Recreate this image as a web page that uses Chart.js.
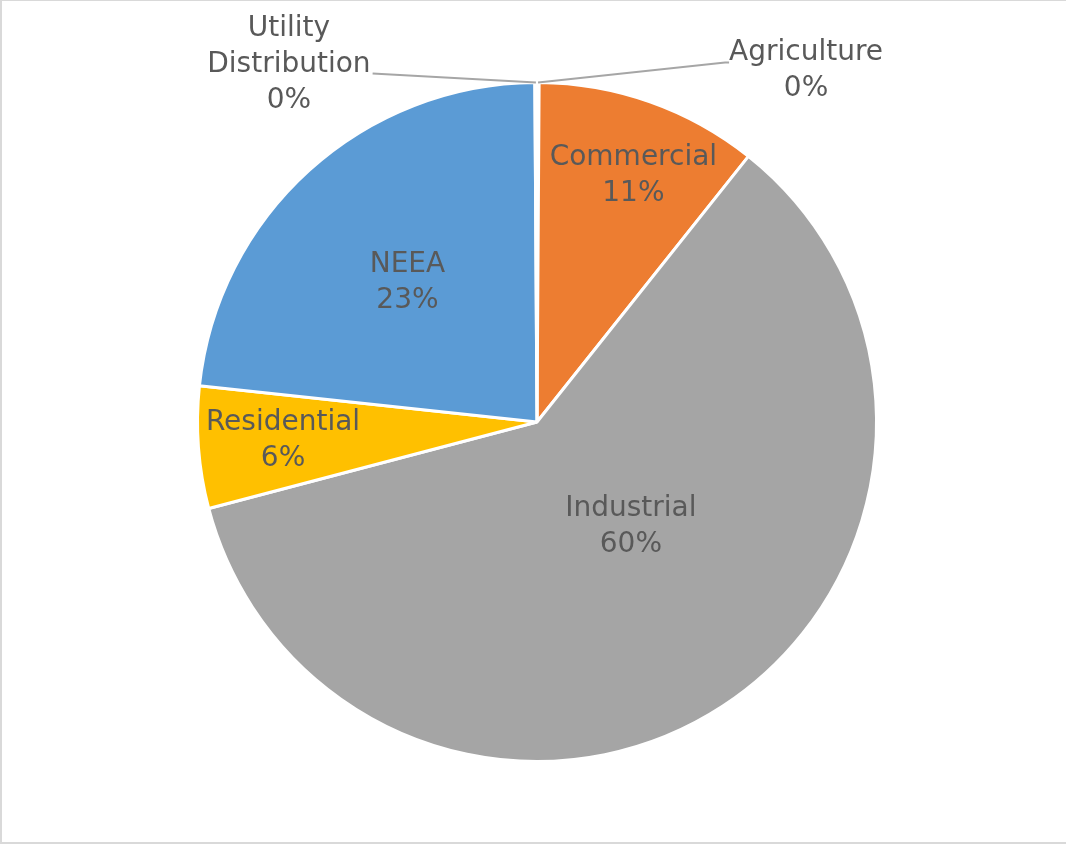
<!DOCTYPE html>
<html>
<head>
<meta charset="utf-8">
<script src="https://cdn.jsdelivr.net/npm/chart.js@4.4.0/dist/chart.umd.min.js"></script>
<style>
  html, body { margin: 0; padding: 0; background: #fff; }
  #wrap { width: 1066px; height: 846px; position: relative; }
</style>
</head>
<body>
<div id="wrap"><canvas id="myPieChart" width="1066" height="846"></canvas></div>
<script>
// Werte (Anteil in %)
const categories = ["Agriculture", "Commercial", "Industrial", "Residential", "NEEA", "Utility Distribution"];
const shares = [0.1, 10.6, 60.2, 5.8, 23.2, 0.1];
const shownPercent = ["0%", "11%", "60%", "6%", "23%", "0%"];
const sliceColors = ['#4472C4', '#ED7D31', '#A5A5A5', '#FFC000', '#5B9BD5', '#70AD47'];

// Label-Zeilen (Umbruch wie im Original)
const labelLines = [
    ["Agriculture"],
    ["Commercial"],
    ["Industrial"],
    ["Residential"],
    ["NEEA"],
    ["Utility", "Distribution"]
];

const FONT = "28px 'DejaVu Sans'";
const TEXT_COLOR = "#595959";

// Platzierung der Beschriftungen: innen (t = Position im Winkel, rf = Anteil vom Radius)
// oder aussen (dx/dy relativ zum Randpunkt des Segments)
const labelPlacement = {
    0: {outside: true, dx: 268, dy: -12, align: 'left'},
    1: {t: 0.55, rf: 0.78},
    2: {t: 0.46, rf: 0.415},
    3: {t: 0.51, rf: 0.75},
    4: {t: 0.49, rf: 0.56},
    5: {outside: true, dx: -247, dy: -18, align: 'right'}
};

const frameAndLabels = {
    id: 'frameAndLabels',
    beforeDraw(chart) {
        const ctx = chart.ctx;
        ctx.save();
        ctx.fillStyle = '#ffffff';
        ctx.fillRect(0, 0, chart.width, chart.height);
        ctx.strokeStyle = '#d9d9d9';
        ctx.lineWidth = 2;
        ctx.strokeRect(1, 0, chart.width + 4, chart.height - 3);
        ctx.restore();
    },
    afterDatasetsDraw(chart) {
        const ctx = chart.ctx;
        const arcs = chart.getDatasetMeta(0).data;
        const lineH = 36;
        ctx.save();
        ctx.font = FONT;
        ctx.fillStyle = TEXT_COLOR;
        ctx.textAlign = 'center';
        ctx.textBaseline = 'middle';
        arcs.forEach((arc, i) => {
            const p = labelPlacement[i];
            const lines = labelLines[i].concat([shownPercent[i]]);
            const a0 = arc.startAngle, a1 = arc.endAngle;
            if (!p.outside) {
                const ang = a0 + (a1 - a0) * p.t;
                const r = arc.outerRadius * p.rf;
                const cx = arc.x + Math.cos(ang) * r;
                const cy = arc.y + Math.sin(ang) * r;
                const top = cy - (lines.length - 1) * lineH / 2;
                lines.forEach((l, k) => ctx.fillText(l, cx, top + k * lineH));
                return;
            }
            // Aussenlabel mit Fuehrungslinie
            const mid = (a0 + a1) / 2;
            const ex = arc.x + Math.cos(mid) * arc.outerRadius;
            const ey = arc.y + Math.sin(mid) * arc.outerRadius;
            const cx = ex + p.dx;
            const cy = ey + p.dy;
            const top = cy - (lines.length - 1) * lineH / 2;
            let widest = 0;
            lines.forEach((l) => widest = Math.max(widest, ctx.measureText(l).width));
            lines.forEach((l, k) => ctx.fillText(l, cx, top + k * lineH));
            ctx.strokeStyle = '#a6a6a6';
            ctx.lineWidth = 2;
            ctx.beginPath();
            ctx.moveTo(ex, ey);
            if (p.align == 'left') {
                const lx = cx - ctx.measureText(lines[0]).width / 2 - 4;
                const ly = top + 10;
                ctx.lineTo(lx, ly);
                ctx.lineTo(lx + 4, ly);
            } else {
                const line1 = lines[lines.length - 2];
                const lx = cx + ctx.measureText(line1).width / 2 + 2;
                const ly = top + (lines.length - 2) * lineH + 9;
                ctx.lineTo(lx, ly);
            }
            ctx.stroke();
        });
        ctx.restore();
    }
};

const ctx = document.getElementById("myPieChart");
const myPieChart = new Chart(ctx, {
    type: 'pie',
    data: {
        labels: categories,
        datasets: [{
            data: shares,
            backgroundColor: sliceColors,
            borderColor: '#ffffff',
            borderWidth: 3
        }]
    },
    options: {
        responsive: false,
        animation: false,
        layout: {
            padding: {top: 81, bottom: 83, left: 8, right: 0}
        },
        plugins: {
            legend: {display: false},
            tooltip: {enabled: false}
        }
    },
    plugins: [frameAndLabels]
});
</script>
</body>
</html>
